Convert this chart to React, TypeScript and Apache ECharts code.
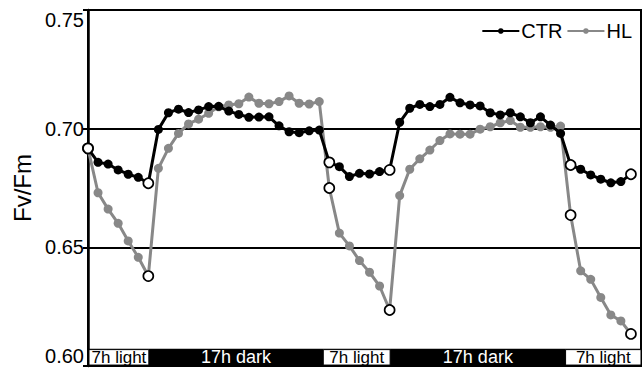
import React, { useEffect, useRef } from "react";
import * as echarts from "echarts";

const FONT = "'Liberation Sans', Arial, Helvetica, sans-serif";

// sample index 0..54
const ctrValues = [
  0.6917, 0.6858, 0.6851, 0.6826, 0.6808, 0.6795, 0.677,
  0.6997, 0.7067, 0.7082, 0.7068, 0.7079, 0.7093, 0.7094, 0.7074, 0.706, 0.7048, 0.7049, 0.705,
  0.7012, 0.6987, 0.6983, 0.6991, 0.6994,
  0.6858, 0.684, 0.6798, 0.6812, 0.6809, 0.6819, 0.6826,
  0.7027, 0.7086, 0.7102, 0.7093, 0.7102, 0.7132, 0.7109, 0.71, 0.7096, 0.7067, 0.7058, 0.7067,
  0.705, 0.7025, 0.705, 0.7015, 0.698,
  0.6847, 0.6829, 0.6805, 0.6787, 0.6772, 0.6777, 0.6808,
];

const hlValues = [
  0.6917, 0.673, 0.6661, 0.6601, 0.6527, 0.6458, 0.6379,
  0.6833, 0.6917, 0.698, 0.702, 0.704, 0.7065, 0.7092, 0.71, 0.7105, 0.7133, 0.7107, 0.7105,
  0.7114, 0.7138, 0.7107, 0.7104, 0.7114,
  0.675, 0.656, 0.6506, 0.6444, 0.6395, 0.6337, 0.6236,
  0.6718, 0.6829, 0.6873, 0.691, 0.695, 0.6978, 0.6977, 0.6977, 0.6998, 0.7008, 0.7025, 0.7034,
  0.7006, 0.7006, 0.7008, 0.7006, 0.7011,
  0.6636, 0.6401, 0.6365, 0.6289, 0.6215, 0.619, 0.6135,
];

// indices of transition points drawn as open circles
const openIdx = [0, 6, 24, 30, 48, 54];

const yTickLabels = ["0.60", "0.65", "0.70", "0.75"];

// light / dark period boxes along the sample axis
const lightBoxes: [number, number][] = [
  [0.1, 6.05],
  [23.4, 30.05],
  [47.5, 55],
];
const darkSpans: [number, number][] = [
  [6.05, 23.4],
  [30.05, 47.5],
];
const lightLabel = "7h light";
const darkLabel = "17h dark";

const Y_MIN = 0.6;
const Y_MAX = 0.75;
const BAR_TOP = 0.6073;

function toData(values: number[]) {
  return values.map((v, i) =>
    openIdx.includes(i)
      ? {
          value: [i, v],
          symbolSize: 10,
          itemStyle: { color: "#fff", borderColor: "#000", borderWidth: 1.7 },
          z: 10,
        }
      : { value: [i, v] }
  );
}

export default function App() {
  const ref = useRef<HTMLDivElement>(null);
  useEffect(() => {
    if (!ref.current) return;
    const chart = echarts.init(ref.current, null, { renderer: "svg" });

    const markData: any[] = [
      [
        { xAxis: 0, yAxis: Y_MIN, itemStyle: { color: "#000", opacity: 1 } },
        { xAxis: 55, yAxis: BAR_TOP },
      ],
      ...lightBoxes.map(([a, b]) => [
        {
          name: lightLabel,
          xAxis: a,
          yAxis: Y_MIN + 0.0004,
          itemStyle: { color: "#fff", opacity: 1, borderColor: "#000", borderWidth: 1 },
          label: {
            show: true,
            position: "inside",
            color: "#000",
            fontSize: 17,
            fontFamily: FONT,
          },
        },
        { xAxis: b, yAxis: BAR_TOP - 0.0004 },
      ]),
      ...darkSpans.map(([a, b]) => [
        {
          name: darkLabel,
          xAxis: a,
          yAxis: Y_MIN,
          itemStyle: { color: "rgba(0,0,0,0)", opacity: 1 },
          label: {
            show: true,
            position: "inside",
            color: "#fff",
            fontSize: 18,
            fontFamily: FONT,
          },
        },
        { xAxis: b, yAxis: BAR_TOP },
      ]),
    ];

    chart.setOption({
      animation: false,
      grid: {
        left: 88,
        right: 2,
        top: 10,
        bottom: 3,
        show: true,
        borderColor: "#000",
        borderWidth: 2,
      },
      legend: {
        data: ["CTR", "HL"],
        right: 11,
        top: 21,
        padding: 0,
        itemGap: 4,
        itemWidth: 37,
        itemHeight: 7,
        textStyle: { fontSize: 20, color: "#000", fontFamily: FONT, padding: [0, 0, 0, -3] },
      },
      xAxis: { type: "value", min: 0, max: 55, show: false },
      yAxis: {
        type: "value",
        min: Y_MIN,
        max: Y_MAX,
        interval: 0.05,
        name: "Fv/Fm",
        nameLocation: "middle",
        nameGap: 50,
        nameTextStyle: { fontSize: 24, color: "#000", fontFamily: FONT },
        axisLine: { show: true, lineStyle: { color: "#000", width: 2.5 } },
        axisTick: { show: true, length: 5, lineStyle: { color: "#000", width: 2 } },
        axisLabel: {
          fontSize: 20,
          color: "#000",
          fontFamily: FONT,
          margin: 4,
          formatter: (_v: number, i: number) => yTickLabels[i],
          verticalAlignMaxLabel: "top",
          verticalAlignMinLabel: "bottom",
        },
        splitLine: { show: true, lineStyle: { color: "#000", width: 2 } },
      },
      series: [
        {
          name: "bars",
          type: "line",
          data: [],
          silent: true,
          markArea: { silent: true, data: markData },
          z: 1,
        },
        {
          name: "HL",
          type: "line",
          data: toData(hlValues),
          symbol: "circle",
          symbolSize: 9,
          showAllSymbol: true,
          color: "#888888",
          lineStyle: { color: "#888888", width: 3 },
          itemStyle: { color: "#888888" },
          z: 2,
        },
        {
          name: "CTR",
          type: "line",
          data: toData(ctrValues),
          symbol: "circle",
          symbolSize: 9,
          showAllSymbol: true,
          color: "#000",
          lineStyle: { color: "#000", width: 3 },
          itemStyle: { color: "#000" },
          z: 3,
        },
      ],
    });
    return () => chart.dispose();
  }, []);
  return (
    <div
      ref={ref}
      style={{ position: "fixed", left: 0, top: 0, width: 643, height: 369, background: "#fff" }}
    />
  );
}
